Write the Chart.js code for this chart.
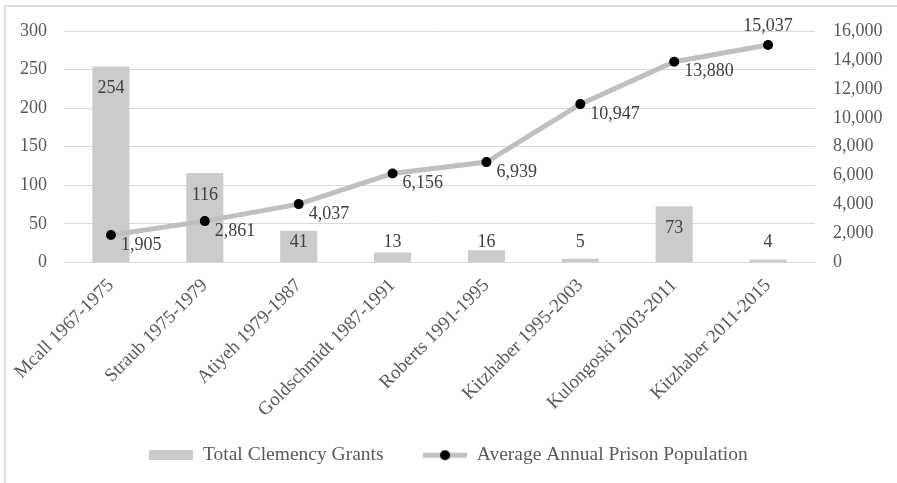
<!DOCTYPE html>
<html>
<head>
<meta charset="utf-8">
<script src="https://cdn.jsdelivr.net/npm/chart.js@4/dist/chart.umd.min.js"></script>
<style>
  html, body { margin: 0; padding: 0; background: #fff; }
  #wrap { position: relative; width: 897px; height: 483px; overflow: hidden; }
  #frame { position: absolute; left: 4px; top: 5px; right: -10px; bottom: -10px;
           border-left: 2px solid #dedede; border-top: 2px solid #dedede; }
  canvas { position: absolute; left: 0; top: 0; }
</style>
</head>
<body>
<div id="wrap">
  <div id="frame"></div>
  <canvas id="chart" width="897" height="483"></canvas>
</div>
<script>
// data
const governors = [
  'Mcall 1967-1975', 'Straub 1975-1979', 'Atiyeh 1979-1987', 'Goldschmidt 1987-1991',
  'Roberts 1991-1995', 'Kitzhaber 1995-2003', 'Kulongoski 2003-2011', 'Kitzhaber 2011-2015'
];
const clemencyGrants = [254, 116, 41, 13, 16, 5, 73, 4];
const prisonPopulation = [1905, 2861, 4037, 6156, 6939, 10947, 13880, 15037];
const grantsAxis = { min: 0, max: 300, step: 50 };
const populationAxis = { min: 0, max: 16000, step: 2000 };

const FONT = '"Liberation Serif", "Times New Roman", serif';
const TEXT = '#595959';
const LABEL = '#404040';
const GRID = '#d9d9d9';
const BAR = '#cbcbcb';
const LINE = '#bfbfbf';

const fmt = v => v.toLocaleString('en-US');

// legend swatches
function barSwatch() {
  const c = document.createElement('canvas');
  c.width = 44; c.height = 10;
  const g = c.getContext('2d');
  g.fillStyle = BAR; g.fillRect(0, 0, 44, 10);
  return c;
}
function lineSwatch() {
  const c = document.createElement('canvas');
  c.width = 44; c.height = 12;
  const g = c.getContext('2d');
  g.strokeStyle = LINE; g.lineWidth = 5;
  g.beginPath(); g.moveTo(0, 6); g.lineTo(44, 6); g.stroke();
  g.fillStyle = '#000';
  g.beginPath(); g.arc(22, 6, 5, 0, Math.PI * 2); g.fill();
  return c;
}

// data labels like the spreadsheet: inside end for bars, beside the dots for the line
const valueLabels = {
  id: 'valueLabels',
  afterDatasetsDraw(chart) {
    const ctx = chart.ctx;
    const zeroY = chart.scales.y.getPixelForValue(0);
    ctx.save();
    ctx.font = '18px ' + FONT;
    ctx.fillStyle = LABEL;
    ctx.textBaseline = 'middle';

    chart.getDatasetMeta(0).data.forEach((bar, i) => {
      const y = Math.min(bar.y + 22, zeroY - 20);
      ctx.textAlign = 'center';
      ctx.fillText(fmt(clemencyGrants[i]), bar.x, y);
    });

    const pts = chart.getDatasetMeta(1).data;
    pts.forEach((p, i) => {
      if (i === pts.length - 1) {
        ctx.textAlign = 'center';
        ctx.fillText(fmt(prisonPopulation[i]), p.x, p.y - 19);
      } else {
        ctx.textAlign = 'left';
        ctx.fillText(fmt(prisonPopulation[i]), p.x + 10, p.y + 10);
      }
    });
    ctx.restore();
  }
};

new Chart(document.getElementById('chart'), {
  data: {
    labels: governors,
    datasets: [
      {
        type: 'bar',
        label: 'Total Clemency Grants',
        data: clemencyGrants,
        backgroundColor: BAR,
        yAxisID: 'y',
        categoryPercentage: 1,
        barPercentage: 0.395,
        order: 2
      },
      {
        type: 'line',
        label: 'Average Annual Prison Population',
        data: prisonPopulation,
        borderColor: LINE,
        borderWidth: 5,
        pointRadius: 5,
        pointBackgroundColor: '#000',
        pointBorderColor: '#000',
        pointBorderWidth: 0,
        tension: 0,
        yAxisID: 'y2',
        order: 1
      }
    ]
  },
  options: {
    responsive: false,
    animation: false,
    layout: { padding: { top: 31, bottom: 8, left: 0, right: 0 } },
    plugins: {
      tooltip: { enabled: false },
      legend: {
        position: 'bottom',
        labels: {
          usePointStyle: true,
          pointStyleWidth: 44,
          padding: 20,
          color: TEXT,
          font: { family: FONT, size: 19.5 },
          generateLabels(chart) {
            return chart.data.datasets.map((ds, i) => ({
              // em space widens the gap between the two legend entries
              text: i === 0 ? ds.label + '\u2003' : ds.label,
              pointStyle: i === 0 ? barSwatch() : lineSwatch(),
              fontColor: TEXT,
              datasetIndex: i,
              hidden: false,
              lineWidth: 0
            }));
          }
        }
      }
    },
    scales: {
      x: {
        grid: { display: false },
        border: { color: GRID, width: 1 },
        ticks: {
          color: TEXT,
          font: { family: FONT, size: 19 },
          minRotation: 45,
          maxRotation: 45,
          padding: 4
        },
        afterFit(scale) { scale.height = 163; }
      },
      y: {
        position: 'left',
        min: grantsAxis.min,
        max: grantsAxis.max,
        border: { display: false },
        grid: { color: GRID, drawTicks: false },
        ticks: {
          stepSize: grantsAxis.step,
          color: TEXT,
          font: { family: FONT, size: 18 },
          padding: 17
        },
        afterFit(scale) { scale.width = 64; }
      },
      y2: {
        position: 'right',
        min: populationAxis.min,
        max: populationAxis.max,
        border: { display: false },
        grid: { display: false, drawTicks: false },
        ticks: {
          stepSize: populationAxis.step,
          color: TEXT,
          font: { family: FONT, size: 18 },
          padding: 18,
          callback: v => fmt(v)
        },
        afterFit(scale) { scale.width = 82; }
      }
    }
  },
  plugins: [valueLabels]
});
</script>
</body>
</html>
